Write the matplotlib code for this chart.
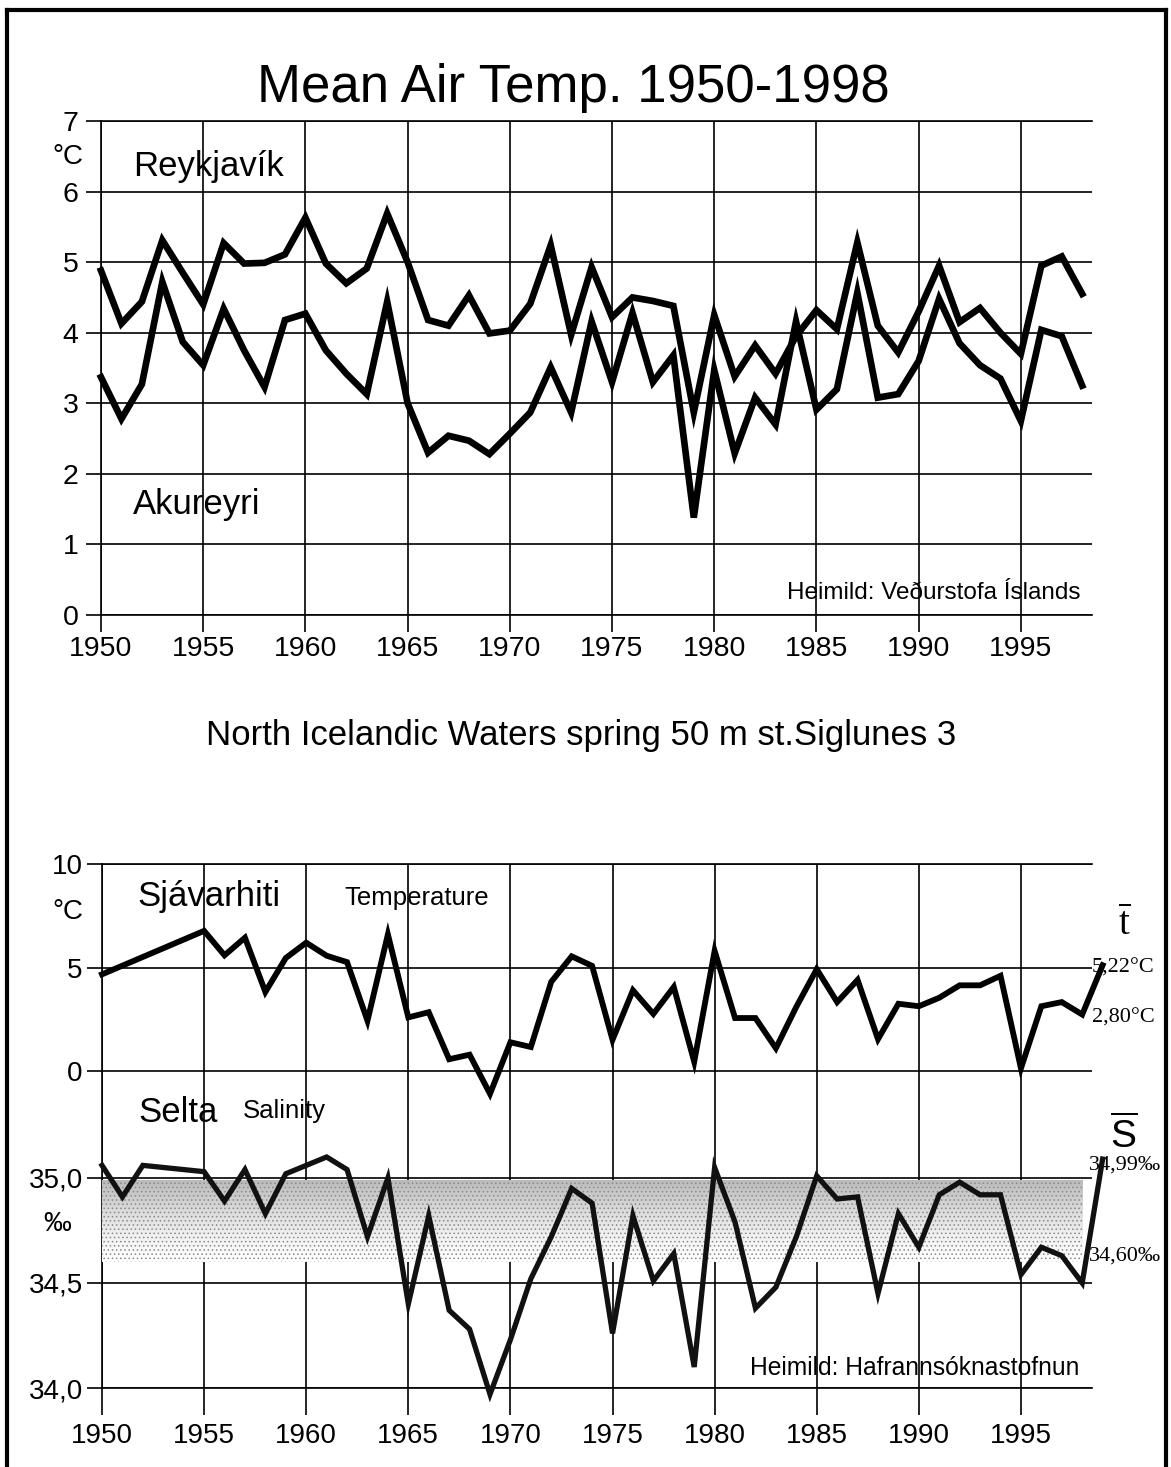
import numpy as np
import matplotlib
matplotlib.use('Agg')
import matplotlib.pyplot as plt
from matplotlib.lines import Line2D

# annual mean air temperature (deg C)
air_years = list(range(1950, 1999))
reykjavik = [4.88, 4.13, 4.44, 5.31, 4.85, 4.40, 5.27, 4.98, 4.99, 5.11,
             5.63, 4.98, 4.70, 4.91, 5.69, 5.00, 4.18, 4.10, 4.53, 3.99,
             4.03, 4.41, 5.24, 3.97, 4.93, 4.22, 4.50, 4.45, 4.38, 2.87,
             4.25, 3.38, 3.82, 3.42, 3.95, 4.32, 4.05, 5.28, 4.10, 3.72,
             4.30, 4.95, 4.15, 4.35, 4.00, 3.70, 4.95, 5.08, 4.55]
akureyri = [3.37, 2.78, 3.27, 4.72, 3.87, 3.54, 4.34, 3.75, 3.23, 4.18,
            4.27, 3.75, 3.42, 3.13, 4.44, 3.00, 2.30, 2.54, 2.47, 2.28,
            2.57, 2.87, 3.51, 2.87, 4.16, 3.30, 4.28, 3.30, 3.68, 1.38,
            3.47, 2.29, 3.08, 2.70, 4.16, 2.91, 3.20, 4.57, 3.08, 3.13,
            3.60, 4.48, 3.85, 3.54, 3.35, 2.75, 4.04, 3.95, 3.25]

# spring values at 50 m, Siglunes 3
sea_years = list(range(1950, 2000))
sea_temp = [4.67, 5.09, 5.51, 5.93, 6.35, 6.77, 5.59, 6.44, 3.82, 5.46,
            6.20, 5.57, 5.26, 2.43, 6.60, 2.59, 2.84, 0.57, 0.79, -1.10,
            1.39, 1.16, 4.31, 5.54, 5.08, 1.51, 3.90, 2.76, 4.06, 0.45,
            5.80, 2.56, 2.56, 1.10, 3.10, 4.92, 3.33, 4.40, 1.54, 3.25,
            3.13, 3.54, 4.14, 4.14, 4.60, 0.13, 3.13, 3.33, 2.73, 5.11]
salinity = [35.06, 34.91, 35.06, 35.05, 35.04, 35.03, 34.89, 35.04, 34.83, 35.02,
            35.06, 35.10, 35.04, 34.72, 35.00, 34.40, 34.82, 34.37, 34.28, 33.97,
            34.23, 34.52, 34.72, 34.95, 34.88, 34.26, 34.82, 34.51, 34.64, 34.10,
            35.05, 34.79, 34.38, 34.48, 34.72, 35.01, 34.90, 34.91, 34.45, 34.83,
            34.67, 34.92, 34.98, 34.92, 34.92, 34.54, 34.67, 34.63, 34.50, 35.09]

temp_means = [5.22, 2.80]
sal_means = [34.99, 34.60]
year_ticks = list(range(1950, 1996, 5))
air_ticks = list(range(0, 8))
temp_ticks = [0, 5, 10]
sal_ticks = [34.0, 34.5, 35.0]

W, H = 1171, 1467

plt.rcParams['font.family'] = ['Liberation Sans', 'DejaVu Sans']
plt.rcParams['mathtext.fontset'] = 'custom'
plt.rcParams['mathtext.rm'] = 'Liberation Serif'
plt.rcParams['mathtext.sf'] = 'Liberation Sans'
plt.rcParams['hatch.linewidth'] = 0.6
SERIF = ['Liberation Serif', 'DejaVu Serif']


def box(x0, y0, x1, y1):
    return [x0 / W, 1 - y1 / H, (x1 - x0) / W, (y1 - y0) / H]


def comma(v, nd):
    return f'{v:.{nd}f}'.replace('.', ',')


GRID_LW = 1.2
fig = plt.figure(figsize=(W / 100, H / 100), dpi=100)


def style_axes(a, xlen, xpad, ylen, ypad, xsize, ysize):
    a.set_xlim(1950, 1998.48)
    a.set_xticks(year_ticks)
    a.grid(True, color='black', lw=GRID_LW)
    a.set_axisbelow(True)
    a.tick_params(axis='x', direction='out', length=xlen, width=GRID_LW, pad=xpad, labelsize=xsize)
    a.tick_params(axis='y', direction='out', length=ylen, width=GRID_LW, pad=ypad, labelsize=ysize)
    a.spines['right'].set_visible(False)
    for s in ('left', 'top', 'bottom'):
        a.spines[s].set_linewidth(GRID_LW)


# ---- air temperature -------------------------------------------------
ax = fig.add_axes(box(101, 121, 1092, 615))
ax.plot(air_years, reykjavik, color='black', lw=4.8, solid_joinstyle='miter', clip_on=False)
ax.plot(air_years, akureyri, color='black', lw=4.8, solid_joinstyle='miter', clip_on=False)
ax.set_ylim(0, 7)
ax.set_yticks(air_ticks)
style_axes(ax, 12, 3, 10.8, 5.5, 20.5, 20.5)

ax.text(1951.57, 6.35, 'Reykjavík', fontsize=25, ha='left', va='center')
ax.text(1951.57, 1.56, 'Akureyri', fontsize=25, ha='left', va='center')
ax.text(1948.39, 6.49, '°C', fontsize=20, ha='center', va='center', clip_on=False)
ax.text(1997.9, 0.31, 'Heimild: Veðurstofa Íslands', fontsize=17.5, ha='right', va='center')

fig.text(573 / W, 1 - 88 / H, 'Mean Air Temp. 1950-1998', fontsize=38, ha='center', va='center')
fig.text(581 / W, 1 - 735 / H, 'North Icelandic Waters spring 50 m st.Siglunes 3', fontsize=25,
         ha='center', va='center')

# ---- sea temperature and salinity -----------------------------------
bx = fig.add_axes(box(102, 864, 1092, 1388))
bx.set_ylim(-15.31, 10)
bx.set_yticks(temp_ticks)
bx.plot(sea_years, sea_temp, color='black', lw=4.2, solid_joinstyle='miter', clip_on=False, zorder=4)
style_axes(bx, 19.4, 5.5, 10.8, 3, 20, 20)

sx = bx.twinx()
sx.set_yticks(sal_ticks)
sx.set_yticklabels([comma(v, 1) for v in sal_ticks])
sx.yaxis.set_ticks_position('left')
sx.tick_params(axis='y', direction='out', length=10.8, width=GRID_LW, pad=3, labelsize=20)
sx.grid(True, axis='y', color='black', lw=GRID_LW)
for s in sx.spines.values():
    s.set_visible(False)

# stippled band between the two salinity means
grad = np.linspace(0.0, 1.0, 64).reshape(-1, 1)
sx.imshow(grad, extent=[1950, 1998, sal_means[1], sal_means[0]], origin='lower',
          aspect='auto', cmap='Greys', vmin=0, vmax=2.6, interpolation='bilinear', zorder=1)
sx.fill_between([1950, 1998], sal_means[1], sal_means[0], facecolor='none',
                edgecolor='#8a8a8a', hatch='....', lw=0, zorder=1.5)
sx.set_xlim(1950, 1998.48)
sx.set_ylim(34.0, 36.495)
sx.plot(sea_years, salinity, color='#111111', lw=3.8, solid_joinstyle='miter', clip_on=False, zorder=4)

bx.text(1948.34, 7.68, '°C', fontsize=20, ha='center', va='center', clip_on=False)
bx.text(1951.71, 8.41, 'Sjávarhiti', fontsize=25, ha='left', va='center')
bx.text(1961.89, 8.36, 'Temperature', fontsize=18.5, ha='left', va='center')
sx.text(1951.76, 35.31, 'Selta', fontsize=25, ha='left', va='center')
sx.text(1956.9, 35.32, 'Salinity', fontsize=18.5, ha='left', va='center')
sx.text(1947.8, 34.78, '‰', fontsize=20, ha='center', va='center', clip_on=False)
sx.text(1997.85, 34.095, 'Heimild: Hafrannsóknastofnun', fontsize=17.7,
        ha='right', va='center', zorder=5)

# period means on the right-hand side
bx.text(2000.05, 7.05, r'$\overline{\mathrm{t}}$', fontsize=28, ha='center', va='center', clip_on=False)
bx.text(1998.48, 4.98, comma(temp_means[0], 2) + '°C', fontsize=16, fontfamily=SERIF,
        ha='left', va='center', clip_on=False)
bx.text(1998.48, 2.56, comma(temp_means[1], 2) + '°C', fontsize=16, fontfamily=SERIF,
        ha='left', va='center', clip_on=False)
sx.text(2000.05, 35.2, r'$\overline{\mathsf{S}}$', fontsize=28, ha='center', va='center', clip_on=False)
sx.text(1998.34, 35.06, comma(sal_means[0], 2) + '‰', fontsize=16, fontfamily=SERIF,
        ha='left', va='center', clip_on=False)
sx.text(1998.34, 34.63, comma(sal_means[1], 2) + '‰', fontsize=16, fontfamily=SERIF,
        ha='left', va='center', clip_on=False)

# page frame
for xs, ys in (([6.5, 6.5], [H, 10]), ([6.5, 1166], [10, 10]), ([1166, 1166], [10, H])):
    fig.add_artist(Line2D([x / W for x in xs], [1 - y / H for y in ys],
                          transform=fig.transFigure, color='black', lw=3))

fig.savefig('out.png', dpi=100)
